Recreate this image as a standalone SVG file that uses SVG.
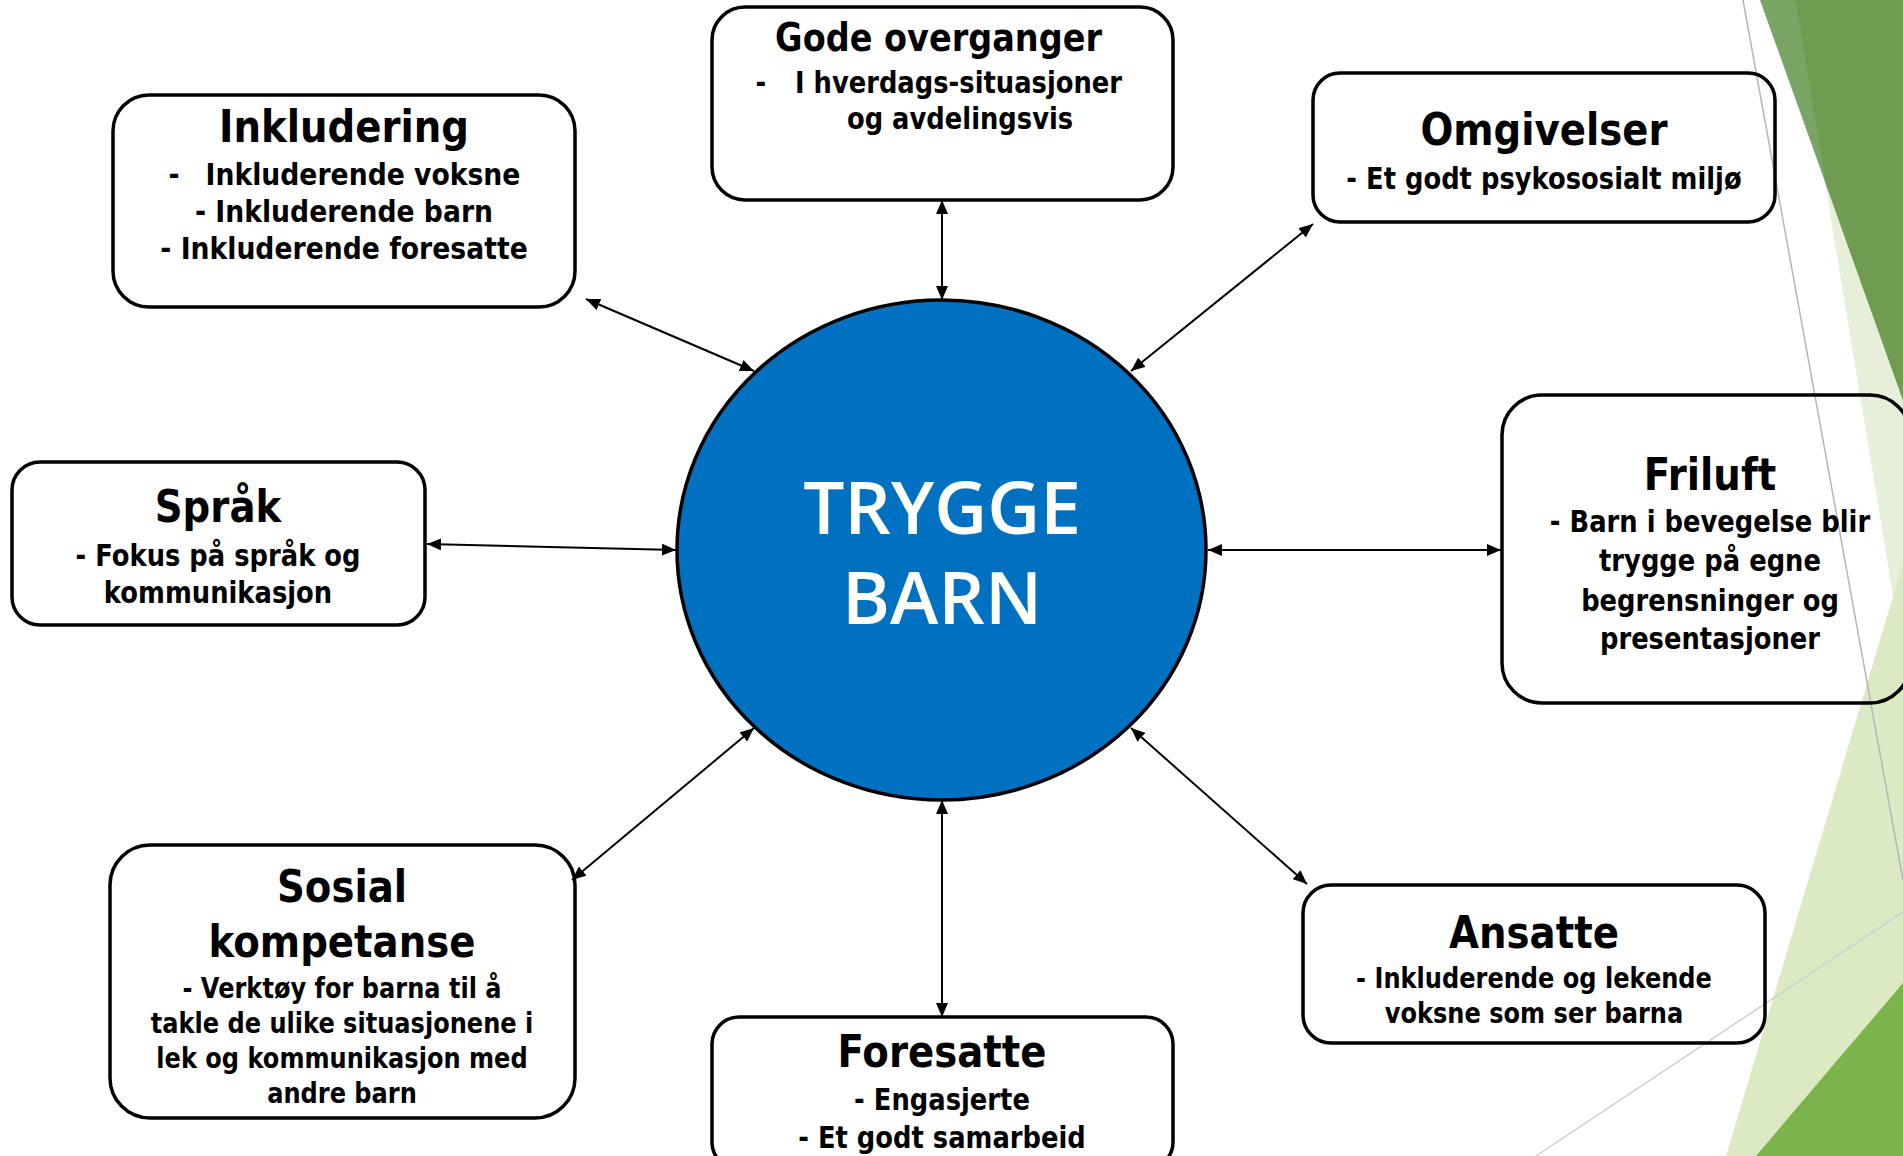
<svg xmlns="http://www.w3.org/2000/svg" width="1903" height="1156" viewBox="0 0 1903 1156">
<defs>
<style>
.box{fill:none;stroke:#000;stroke-width:3.5}
.tt{font-family:"DejaVu Sans","Liberation Sans",sans-serif;font-weight:bold;fill:#000;text-anchor:middle}
.st{text-anchor:start}
.title{font-size:45px}
.body{font-size:30px}
.conn line{stroke:#000;stroke-width:2;marker-start:url(#ah);marker-end:url(#ah)}
.hub{fill:#0070C0;stroke:#000;stroke-width:3.5}
.hubt{font-family:"Open Sans","Noto Sans",sans-serif;font-weight:600;font-size:73px;fill:#fff;text-anchor:middle}
</style>
<marker id="ah" viewBox="0 0 14 12" refX="14" refY="6" markerWidth="14" markerHeight="12" markerUnits="userSpaceOnUse" orient="auto-start-reverse">
<path d="M0,0 L14,6 L0,12 z" fill="#000"/>
</marker>
</defs>
<rect x="0" y="0" width="1903" height="1156" fill="#fff"/>
<g id="background">
<polygon points="1795,0 1903,0 1903,656" fill="#E6EFD8"/>
<polygon points="1760,0 1903,0 1903,400" fill="#78A564"/>
<polygon points="1795.5,0 1903,0 1903,400 1826,184" fill="#6F9C51"/>
<polygon points="1726,1156 1903,563 1903,1156" fill="#DCEAC4"/>
<polygon points="1756,1156 1903,983 1903,1156" fill="#7CB44C"/>
<line x1="1743" y1="0" x2="1903" y2="880" stroke="#B5B5B5" stroke-width="1.5"/>
<line x1="1903" y1="912" x2="1536" y2="1156" stroke="#CFCFCF" stroke-width="1.5"/>
</g>
<g id="connectors" class="conn">
<line x1="942" y1="200" x2="942" y2="300"/>
<line x1="586" y1="299" x2="754" y2="371"/>
<line x1="1313" y1="224" x2="1131" y2="371"/>
<line x1="427" y1="544" x2="676" y2="550"/>
<line x1="1208" y1="550" x2="1501" y2="550"/>
<line x1="572" y1="880" x2="754" y2="728"/>
<line x1="1307" y1="884" x2="1131" y2="728"/>
<line x1="942" y1="800" x2="942" y2="1017"/>
</g>
<g id="trygge-barn">
<ellipse class="hub" cx="941.5" cy="550" rx="264.5" ry="250"/>
<text class="hubt" x="942" y="534">TRYGGE</text>
<text class="hubt" x="942" y="624">BARN</text>
</g>
<g id="inkludering">
<rect class="box" x="113" y="95" width="462" height="212" rx="36"/>
<g transform="translate(344 0) scale(0.86 1)">
<text class="tt title" x="0" y="142">Inkludering</text>
<text class="tt body st" x="-204" y="185" style="font-size:31px">-</text>
<text class="tt body st" x="-161" y="185" style="font-size:31px">Inkluderende voksne</text>
<text class="tt body" x="0" y="222" style="font-size:31px">- Inkluderende barn</text>
<text class="tt body" x="0" y="259" style="font-size:31px">- Inkluderende foresatte</text>
</g>
</g>
<g id="gode-overganger">
<rect class="box" x="712" y="7" width="461" height="193" rx="33"/>
<g transform="translate(942 0) scale(0.86 1)">
<text class="tt title" x="-4" y="51" style="font-size:39px">Gode overganger</text>
<text class="tt body st" x="-217" y="93">-</text>
<text class="tt body st" x="-171" y="93">I hverdags-situasjoner</text>
<text class="tt body" x="21" y="129">og avdelingsvis</text>
</g>
</g>
<g id="omgivelser">
<rect class="box" x="1313" y="73" width="462" height="149" rx="27"/>
<g transform="translate(1544 0) scale(0.86 1)">
<text class="tt title" x="0" y="145">Omgivelser</text>
<text class="tt body" x="0" y="189">- Et godt psykososialt miljø</text>
</g>
</g>
<g id="friluft">
<rect class="box" x="1502" y="395" width="408" height="308" rx="40"/>
<g transform="translate(1710 0) scale(0.86 1)">
<text class="tt title" x="0" y="490">Friluft</text>
<text class="tt body" x="0" y="532">- Barn i bevegelse blir</text>
<text class="tt body" x="0" y="571">trygge på egne</text>
<text class="tt body" x="0" y="611">begrensninger og</text>
<text class="tt body" x="0" y="649">presentasjoner</text>
</g>
</g>
<g id="ansatte">
<rect class="box" x="1303" y="885" width="462" height="158" rx="28"/>
<g transform="translate(1534 0) scale(0.86 1)">
<text class="tt title" x="0" y="948">Ansatte</text>
<text class="tt body" x="0" y="988" style="font-size:28px">- Inkluderende og lekende</text>
<text class="tt body" x="0" y="1023" style="font-size:28px">voksne som ser barna</text>
</g>
</g>
<g id="foresatte">
<rect class="box" x="712" y="1017" width="461" height="152" rx="27"/>
<g transform="translate(942 0) scale(0.86 1)">
<text class="tt title" x="0" y="1067">Foresatte</text>
<text class="tt body" x="0" y="1110">- Engasjerte</text>
<text class="tt body" x="0" y="1148">- Et godt samarbeid</text>
</g>
</g>
<g id="sosial-kompetanse">
<rect class="box" x="110" y="845" width="465" height="273" rx="40"/>
<g transform="translate(342 0) scale(0.86 1)">
<text class="tt title" x="0" y="902">Sosial</text>
<text class="tt title" x="0" y="957">kompetanse</text>
<text class="tt body" x="0" y="998" style="font-size:28px">- Verktøy for barna til å</text>
<text class="tt body" x="0" y="1033" style="font-size:28px">takle de ulike situasjonene i</text>
<text class="tt body" x="0" y="1068" style="font-size:28px">lek og kommunikasjon med</text>
<text class="tt body" x="0" y="1103" style="font-size:28px">andre barn</text>
</g>
</g>
<g id="sprak">
<rect class="box" x="12" y="462" width="413" height="163" rx="28"/>
<g transform="translate(218 0) scale(0.86 1)">
<text class="tt title" x="0" y="522">Språk</text>
<text class="tt body" x="0" y="566">- Fokus på språk og</text>
<text class="tt body" x="0" y="603">kommunikasjon</text>
</g>
</g>
</svg>
